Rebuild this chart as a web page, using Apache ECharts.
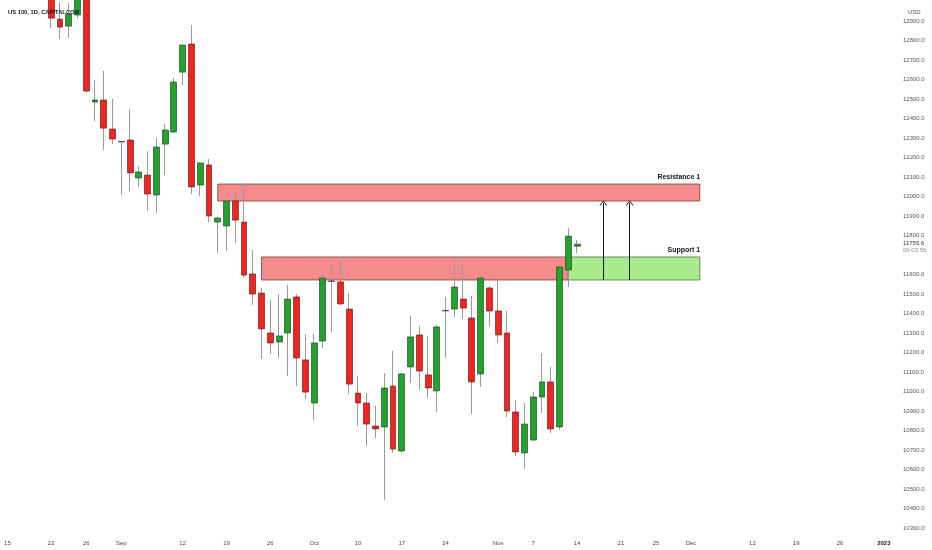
<!DOCTYPE html>
<html>
<head>
<meta charset="utf-8">
<script src="https://cdn.jsdelivr.net/npm/echarts@6.0.0/dist/echarts.min.js"></script>
<style>
  html, body { margin: 0; padding: 0; background: #fff; }
  #main { width: 932px; height: 550px; }
</style>
</head>
<body>
<div id="main"></div>
<script>
// trading days shown on the time axis (weekdays, incl. future space)
var categories = [];
(function () {
    var d = new Date(Date.UTC(2022, 7, 15));
    var end = new Date(Date.UTC(2023, 0, 3));
    while (d <= end) {
        var wd = d.getUTCDay();
        if (wd !== 0 && wd !== 6) categories.push(d.toISOString().slice(0, 10));
        d.setUTCDate(d.getUTCDate() + 1);
    }
})();

var firstCandle = '2022-08-22';

// daily candles, 22 Aug .. 14 Nov 2022
var opens = [13120, 12910, 12874, 12931, 13090,
    12485, 12495, 12346, 12280, 12290,
    12095, 12110, 12008, 12269, 12331,
    12638, 12782, 12059, 12162, 11869,
    11849, 11977, 11869, 11603, 11505,
    11300, 11254, 11300, 11485, 11162,
    10941, 11259, 11565, 11562, 11423,
    10992, 10941, 10823, 10818, 11028,
    10695, 11126, 11290, 11085, 11003,
    11413, 11423, 11474, 11377, 11090,
    11531, 11413, 11300, 10895, 10685,
    10751, 10972, 11049, 10818, 11623,
    11745];
var closes = [12915, 12869, 12936, 13080, 12541,
    12495, 12351, 12295, 12283, 12121,
    12126, 12013, 12254, 12341, 12587,
    12777, 12049, 12172, 11900, 11890,
    11977, 11879, 11597, 11500, 11321,
    11249, 11285, 11474, 11172, 10997,
    11249, 11582, 11567, 11449, 11038,
    10941, 10833, 10808, 11018, 10705,
    11090, 11280, 11105, 11018, 11331,
    11416, 11536, 11428, 11049, 11582,
    11413, 11290, 10900, 10690, 10833,
    10972, 11049, 10808, 11638, 11797,
    11755.6];
var lows = [12864, 12808, 12813, 12915, 12535,
    12387, 12238, 12269, 12008, 12028,
    12049, 11926, 11915, 12110, 12326,
    12572, 12013, 12003, 11869, 11710,
    11721, 11762, 11582, 11444, 11167,
    11192, 11172, 11079, 11028, 10962,
    10854, 11223, 11305, 11444, 10987,
    10823, 10721, 10762, 10444, 10685,
    10690, 11044, 11008, 10967, 10895,
    11172, 11382, 11372, 10885, 11023,
    11331, 11249, 10869, 10669, 10603,
    10748, 10890, 10787, 10803, 11536,
    11710];
var highs = [13140, 12997, 12992, 13100, 13150,
    12597, 12644, 12500, 12284, 12449,
    12156, 12233, 12300, 12372, 12608,
    12780, 12879, 12175, 12192, 11892,
    11997, 12023, 12069, 11726, 11531,
    11469, 11500, 11546, 11500, 11295,
    11295, 11608, 11649, 11670, 11505,
    11079, 10992, 10926, 11095, 11208,
    11095, 11387, 11336, 11285, 11341,
    11485, 11685, 11654, 11490, 11585,
    11541, 11572, 11413, 10956, 10941,
    10997, 11197, 11126, 11640, 11838,
    11777];

var lastPrice = 11755.6;
var lastTime = '09:03:56';

// zones drawn on the chart
var resistanceZone = [11977, 12064];
var resistanceDates = ['2022-09-16', '2022-12-02'];
var supportZone = [11572, 11690];
var supportDates = ['2022-09-23', '2022-11-11', '2022-12-02'];
var arrowDates = ['2022-11-17', '2022-11-22'];
var arrowTop = 11967;

// axis ticks (11700 is covered by the last price tag)
var priceTicks = [10300, 10400, 10500, 10600, 10700, 10800, 10900, 11000, 11100, 11200,
    11300, 11400, 11500, 11600, 11800, 11900, 12000, 12100, 12200, 12300,
    12400, 12500, 12600, 12700, 12800, 12900];
var tickDates = ['2022-08-15', '2022-08-22', '2022-08-26', '2022-09-01', '2022-09-12',
    '2022-09-19', '2022-09-26', '2022-10-03', '2022-10-10', '2022-10-17', '2022-10-24',
    '2022-11-01', '2022-11-07', '2022-11-14', '2022-11-21', '2022-11-25', '2022-12-01',
    '2022-12-12', '2022-12-19', '2022-12-26', '2023-01-02'];
var tickLabels = ['15', '22', '26', 'Sep', '12', '19', '26', 'Oct', '10', '17', '24',
    'Nov', '7', '14', '21', '25', 'Dec', '12', '19', '26', '2023'];

var priceMin = 10264, priceMax = 13008;

var tickMap = {};
tickDates.forEach(function (d, i) { tickMap[d] = tickLabels[i]; });

var start = categories.indexOf(firstCandle);
var wickData = [], bodyData = [];
opens.forEach(function (o, i) {
    var day = categories[start + i];
    wickData.push([day, o, closes[i], lows[i], highs[i]]);
    bodyData.push([day, o, closes[i], Math.min(o, closes[i]), Math.max(o, closes[i])]);
});

var chevron = 'path://M0,10 L5,0 L10,10 L8.6,10 L5,2.8 L1.4,10 Z';
var font = 'Liberation Sans, Arial, sans-serif';

var myChart = echarts.init(document.getElementById('main'));

var option = {
    animation: false,
    backgroundColor: '#ffffff',
    title: [
        {
            text: 'US 100, 1D, CAPITALCOM',
            left: 3, top: 4,
            textStyle: { fontSize: 5.8, fontWeight: 'bold', color: '#131722', fontFamily: font }
        },
        {
            text: 'USD',
            left: 903, top: 4,
            textStyle: { fontSize: 6, fontWeight: 'normal', color: '#555', fontFamily: font }
        }
    ],
    grid: { left: 3, right: 35, top: 0, bottom: 15 },
    xAxis: {
        type: 'category',
        data: categories,
        boundaryGap: true,
        axisLine: { show: false },
        axisTick: { show: false },
        splitLine: { show: false },
        axisLabel: {
            interval: function (i, v) { return tickMap[v] !== undefined; },
            formatter: function (v) {
                var t = tickMap[v];
                return v === '2023-01-02' ? '{b|' + t + '}' : t;
            },
            hideOverlap: false,
            margin: 5,
            fontSize: 6,
            color: '#4a4a4a',
            fontFamily: font,
            rich: { b: { fontSize: 6, fontWeight: 'bold', color: '#131722', fontFamily: font } }
        }
    },
    yAxis: {
        type: 'value',
        position: 'right',
        scale: true,
        min: priceMin,
        max: priceMax,
        axisLine: { show: false },
        axisTick: { show: false },
        splitLine: { show: false },
        axisLabel: {
            customValues: priceTicks,
            formatter: function (v) { return v.toFixed(1); },
            margin: 6,
            fontSize: 6,
            color: '#555',
            fontFamily: font
        }
    },
    series: [
        {
            name: 'wick',
            type: 'candlestick',
            data: wickData,
            encode: { x: 0, y: [1, 2, 3, 4] },
            barWidth: 1,
            clip: true,
            itemStyle: {
                color: '#9a9a9a', color0: '#9a9a9a',
                borderColor: '#9a9a9a', borderColor0: '#9a9a9a', borderWidth: 1
            },
            markArea: {
                silent: true,
                data: [
                    [
                        { coord: [resistanceDates[0], resistanceZone[1]],
                          itemStyle: { color: 'rgba(242, 90, 90, 0.7)', borderColor: '#6a4040', borderWidth: 0.8 },
                          label: { show: true, position: 'insideTopRight', distance: 0, offset: [0, -10],
                                   formatter: 'Resistance 1', fontSize: 7, fontWeight: 'bold', color: '#131722', fontFamily: font } },
                        { coord: [resistanceDates[1], resistanceZone[0]] }
                    ],
                    [
                        { coord: [supportDates[0], supportZone[1]],
                          itemStyle: { color: 'rgba(242, 90, 90, 0.7)', borderColor: '#6a4040', borderWidth: 0.8 },
                          label: { show: false } },
                        { coord: [supportDates[1], supportZone[0]] }
                    ],
                    [
                        { coord: [supportDates[1], supportZone[1]],
                          itemStyle: { color: 'rgba(140, 230, 100, 0.75)', borderColor: '#4f6a40', borderWidth: 0.8 },
                          label: { show: true, position: 'insideTopRight', distance: 0, offset: [0, -10],
                                   formatter: 'Support 1', fontSize: 7, fontWeight: 'bold', color: '#131722', fontFamily: font } },
                        { coord: [supportDates[2], supportZone[0]] }
                    ]
                ]
            },
            markLine: {
                silent: true,
                symbol: ['none', 'none'],
                lineStyle: { color: 'rgba(0,0,0,0)', width: 0 },
                label: {
                    show: true,
                    position: 'end',
                    distance: 6,
                    padding: [6, 0, 0, 0],
                    formatter: '{p|' + lastPrice.toFixed(1) + '}\n{t|' + lastTime + '}',
                    rich: {
                        p: { fontSize: 6, color: '#333', fontFamily: font, lineHeight: 7, align: 'left' },
                        t: { fontSize: 6, color: '#888', fontFamily: font, lineHeight: 7, align: 'left' }
                    }
                },
                data: [{ yAxis: lastPrice }]
            }
        },
        {
            name: 'body',
            type: 'candlestick',
            data: bodyData,
            encode: { x: 0, y: [1, 2, 3, 4] },
            barWidth: 6.4,
            clip: true,
            itemStyle: {
                color: '#1fa62a', color0: '#f5231c',
                borderColor: '#2a2a2a', borderColor0: '#3a1a1a', borderWidth: 0.6
            },
            markLine: {
                silent: true,
                symbol: ['none', chevron],
                symbolSize: [8, 5],
                lineStyle: { color: '#131722', width: 1, type: 'solid' },
                label: { show: false },
                data: arrowDates.map(function (d) {
                    return [{ coord: [d, supportZone[0]] }, { coord: [d, arrowTop] }];
                })
            }
        }
    ]
};

myChart.setOption(option, true);
</script>
</body>
</html>
